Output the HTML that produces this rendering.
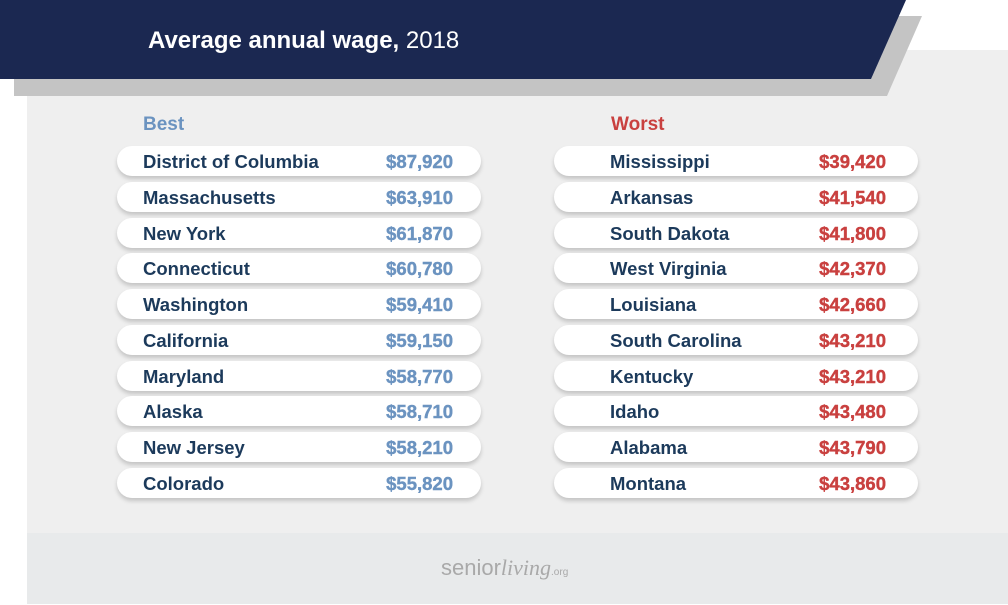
<!DOCTYPE html>
<html><head><style>
body{margin:0;width:1008px;height:605px;background:#fff;position:relative;overflow:hidden;font-family:"Liberation Sans",sans-serif}
.panel{position:absolute;left:27px;top:50px;width:981px;height:483px;background:#efefef}
.foot{position:absolute;left:27px;top:533px;width:981px;height:71px;background:#e8eaeb}
.pill{position:absolute;height:30px;width:364px;background:#fff;border-radius:15px;box-shadow:0 3px 4px rgba(0,0,0,0.18);font-weight:700;font-size:18.5px;color:#1c3a5b;line-height:31px}
.pill .n{position:absolute;left:26px}
.pill b{position:absolute;right:28px;font-weight:700;-webkit-text-stroke:0.4px currentColor}
.b b{color:#6b93c0}.w b{color:#c9403f}
.w .n{left:56px}.w b{right:32px}
.h{position:absolute;top:114px;font-weight:bold;font-size:19px}
</style></head><body>
<div class="panel"></div><div class="foot"></div>
<svg width="1008" height="100" style="position:absolute;left:0;top:0">
<polygon points="14,16 922,16 887,96 14,96" fill="#c4c4c4"/>
<polygon points="0,0 906,0 871,79 0,79" fill="#1b2851"/>
<text x="148" y="48" fill="#fff" font-size="24" font-weight="bold" font-family="Liberation Sans, sans-serif">Average annual wage, <tspan font-weight="normal">2018</tspan></text>
</svg>
<div class="h" style="left:143px;color:#6b93c0">Best</div>
<div class="h" style="left:611px;color:#c9403f">Worst</div>
<div class="pill b" style="left:117px;top:146px"><span class="n">District of Columbia</span><b>$87,920</b></div>
<div class="pill b" style="left:117px;top:182px"><span class="n">Massachusetts</span><b>$63,910</b></div>
<div class="pill b" style="left:117px;top:218px"><span class="n">New York</span><b>$61,870</b></div>
<div class="pill b" style="left:117px;top:253px"><span class="n">Connecticut</span><b>$60,780</b></div>
<div class="pill b" style="left:117px;top:289px"><span class="n">Washington</span><b>$59,410</b></div>
<div class="pill b" style="left:117px;top:325px"><span class="n">California</span><b>$59,150</b></div>
<div class="pill b" style="left:117px;top:361px"><span class="n">Maryland</span><b>$58,770</b></div>
<div class="pill b" style="left:117px;top:396px"><span class="n">Alaska</span><b>$58,710</b></div>
<div class="pill b" style="left:117px;top:432px"><span class="n">New Jersey</span><b>$58,210</b></div>
<div class="pill b" style="left:117px;top:468px"><span class="n">Colorado</span><b>$55,820</b></div>
<div class="pill w" style="left:554px;top:146px"><span class="n">Mississippi</span><b>$39,420</b></div>
<div class="pill w" style="left:554px;top:182px"><span class="n">Arkansas</span><b>$41,540</b></div>
<div class="pill w" style="left:554px;top:218px"><span class="n">South Dakota</span><b>$41,800</b></div>
<div class="pill w" style="left:554px;top:253px"><span class="n">West Virginia</span><b>$42,370</b></div>
<div class="pill w" style="left:554px;top:289px"><span class="n">Louisiana</span><b>$42,660</b></div>
<div class="pill w" style="left:554px;top:325px"><span class="n">South Carolina</span><b>$43,210</b></div>
<div class="pill w" style="left:554px;top:361px"><span class="n">Kentucky</span><b>$43,210</b></div>
<div class="pill w" style="left:554px;top:396px"><span class="n">Idaho</span><b>$43,480</b></div>
<div class="pill w" style="left:554px;top:432px"><span class="n">Alabama</span><b>$43,790</b></div>
<div class="pill w" style="left:554px;top:468px"><span class="n">Montana</span><b>$43,860</b></div>
<div style="position:absolute;left:441px;top:555px;color:#a9a9a9;font-size:22px">senior<span style="font-family:'Liberation Serif',serif;font-style:italic">living</span><span style="font-size:10px">.org</span></div>
</body></html>
